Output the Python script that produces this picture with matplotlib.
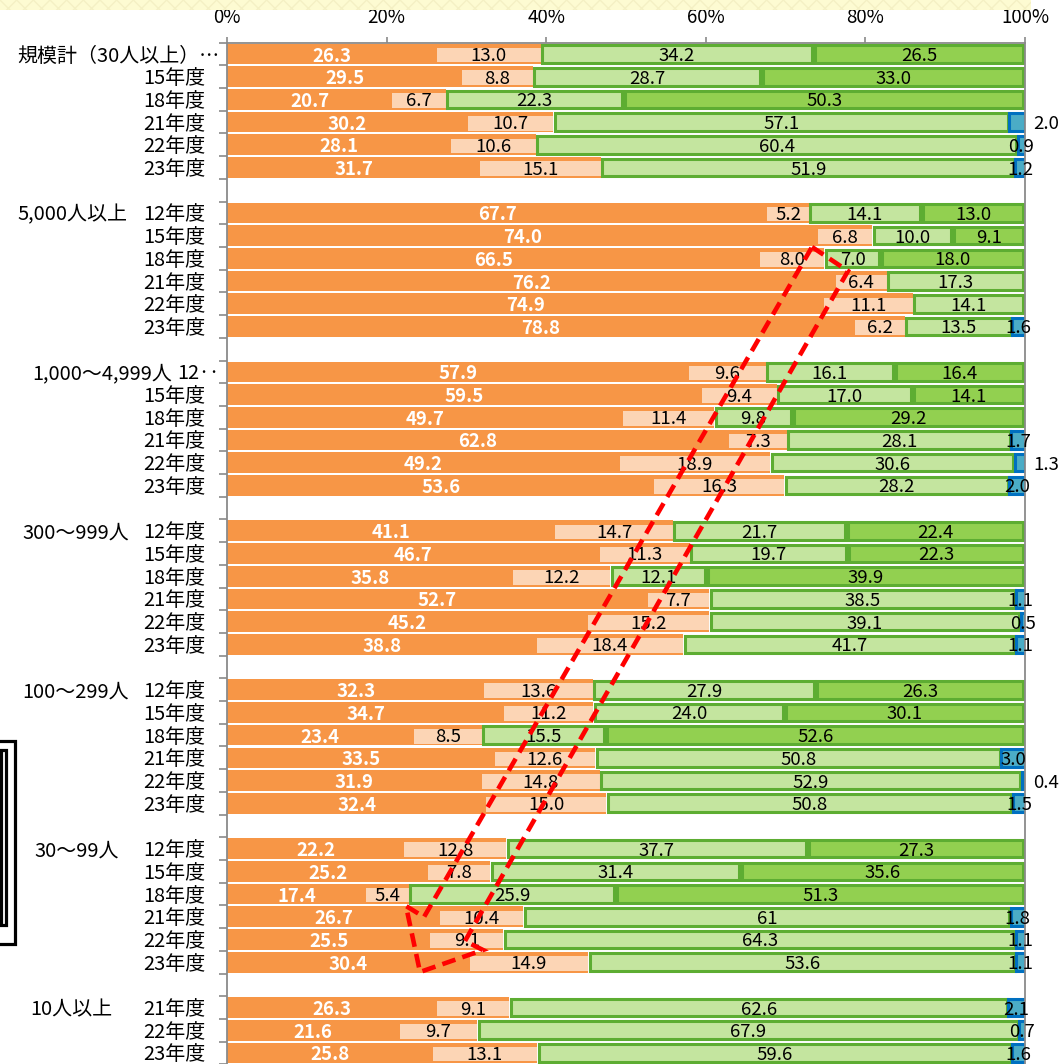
import matplotlib
matplotlib.use("Agg")
import matplotlib.pyplot as plt
from matplotlib.patches import Rectangle, Polygon
from matplotlib.lines import Line2D
from matplotlib.transforms import blended_transform_factory

plt.rcParams["font.family"] = ["Noto Sans CJK JP", "DejaVu Sans"]

W, H = 1062, 1064

# Data (percent shares per row, left to right)
groups = ["規模計（30人以上）", "5,000人以上", "1,000～4,999人", "300～999人",
          "100～299人", "30～99人", "10人以上"]
years_6 = ["12年度", "15年度", "18年度", "21年度", "22年度", "23年度"]
years_3 = ["21年度", "22年度", "23年度"]
group_years = [years_6] * 6 + [years_3]

seg1 = [[26.3, 29.5, 20.7, 30.2, 28.1, 31.7],
        [67.7, 74.0, 66.5, 76.2, 74.9, 78.8],
        [57.9, 59.5, 49.7, 62.8, 49.2, 53.6],
        [41.1, 46.7, 35.8, 52.7, 45.2, 38.8],
        [32.3, 34.7, 23.4, 33.5, 31.9, 32.4],
        [22.2, 25.2, 17.4, 26.7, 25.5, 30.4],
        [26.3, 21.6, 25.8]]
seg2 = [[13.0, 8.8, 6.7, 10.7, 10.6, 15.1],
        [5.2, 6.8, 8.0, 6.4, 11.1, 6.2],
        [9.6, 9.4, 11.4, 7.3, 18.9, 16.3],
        [14.7, 11.3, 12.2, 7.7, 15.2, 18.4],
        [13.6, 11.2, 8.5, 12.6, 14.8, 15.0],
        [12.8, 7.8, 5.4, 10.4, 9.1, 14.9],
        [9.1, 9.7, 13.1]]
seg3 = [[34.2, 28.7, 22.3, 57.1, 60.4, 51.9],
        [14.1, 10.0, 7.0, 17.3, 14.1, 13.5],
        [16.1, 17.0, 9.8, 28.1, 30.6, 28.2],
        [21.7, 19.7, 12.1, 38.5, 39.1, 41.7],
        [27.9, 24.0, 15.5, 50.8, 52.9, 50.8],
        [37.7, 31.4, 25.9, 61, 64.3, 53.6],
        [62.6, 67.9, 59.6]]
seg4 = [[26.5, 33.0, 50.3, None, None, None],
        [13.0, 9.1, 18.0, None, None, None],
        [16.4, 14.1, 29.2, None, None, None],
        [22.4, 22.3, 39.9, None, None, None],
        [26.3, 30.1, 52.6, None, None, None],
        [27.3, 35.6, 51.3, None, None, None],
        [None, None, None]]
seg5 = [[None, None, None, 2.0, 0.9, 1.2],
        [None, None, None, None, None, 1.6],
        [None, None, None, 1.7, 1.3, 2.0],
        [None, None, None, 1.1, 0.5, 1.1],
        [None, None, None, 3.0, 0.4, 1.5],
        [None, None, None, 1.8, 1.1, 1.1],
        [2.1, 0.7, 1.6]]

# labels of the last segment drawn outside the bar (group, row)
outside_last = {(0, 3), (2, 4), (4, 4)}

# Styles
ORANGE = "#F79646"
LIGHT_ORANGE = "#FCD5B5"
LIGHT_GREEN = "#C4E59F"
GREEN = "#92D050"
GREEN_EDGE = "#5DAD32"
BLUE = "#4BACC6"
BLUE_EDGE = "#0070C0"
AXIS_GRAY = "#8A8A8A"

group_label_x = [None, 17, 32, 22, 22, 34, 30]
VAL_FS = 13.4
LAB_FS = 14.4


def fmt(v):
    return str(v) if isinstance(v, int) else f"{v:.1f}"


fig = plt.figure(figsize=(W / 100, H / 100), dpi=100)
ax_top, ax_bot = 42.65, 1064.35
ax = fig.add_axes([227 / W, 1 - ax_bot / H, (1025 - 227) / W, (ax_bot - ax_top) / H])

px_x = 100 / 798.0          # one pixel in % units
pitch = (ax_bot - ax_top) / 45.0
px_y = 1 / pitch            # one pixel in row units
bar_h = 0.91
edge_w = 2.2                # points
edge_px = edge_w * 100 / 72
dy = 2 * px_y               # text sits slightly below the bar centre

lab_tr = blended_transform_factory(fig.transFigure, ax.transData)

y = 0
for gi, gname in enumerate(groups):
    for ri, year in enumerate(group_years[gi]):
        raw = [seg1[gi][ri], seg2[gi][ri], seg3[gi][ri], seg4[gi][ri], seg5[gi][ri]]
        k = 100.0 / sum(v for v in raw if v is not None)   # 100% stacked
        a, b, c, d, e = [None if v is None else v * k for v in raw]

        # dark orange
        ax.barh(y, a, left=0, height=bar_h, color=ORANGE, linewidth=0)
        ax.text(a / 2, y + dy, fmt(raw[0]), ha="center", va="center",
                color="white", fontweight="bold", fontsize=VAL_FS)
        # light orange (inset on an orange base)
        ax.barh(y, b, left=a, height=bar_h, color=ORANGE, linewidth=0)
        ax.barh(y + 1.1 * px_y, b, left=a, height=bar_h - 6 * px_y,
                color=LIGHT_ORANGE, linewidth=0)
        ax.text(a + b / 2, y + dy, fmt(raw[1]), ha="center", va="center",
                color="black", fontsize=VAL_FS)
        left = a + b
        ins = edge_px / 2 * px_x
        for v, rv, fc in ((c, raw[2], LIGHT_GREEN), (d, raw[3], GREEN)):
            if v is None:
                continue
            ax.barh(y, v - 2 * ins, left=left + ins,
                    height=bar_h - edge_px * px_y, color=fc,
                    edgecolor=GREEN_EDGE, linewidth=edge_w)
            ax.text(left + v / 2, y + dy, fmt(rv), ha="center",
                    va="center", color="black", fontsize=VAL_FS)
            left += v
        if e is not None:
            ax.barh(y, e, left=left, height=bar_h - edge_px * px_y, color=BLUE,
                    edgecolor=BLUE_EDGE, linewidth=edge_w)
            if (gi, ri) in outside_last:
                ax.text(100 + 8 * px_x, y + dy, fmt(raw[4]), ha="left",
                        va="center", color="black", fontsize=VAL_FS,
                        clip_on=False)
            else:
                ax.text(left + e / 2, y + dy, fmt(raw[4]), ha="center",
                        va="center", color="black", fontsize=VAL_FS)

        # row labels
        if gi == 0 and ri == 0:
            ax.text(219 / W, y + dy, gname + "…", transform=lab_tr,
                    ha="right", va="center", fontsize=LAB_FS)
        else:
            ytxt = "12‥" if (gi == 2 and ri == 0) else year
            xr = 219 if (gi == 2 and ri == 0) else 205
            ax.text(xr / W, y + dy, ytxt, transform=lab_tr,
                    ha="right", va="center", fontsize=LAB_FS)
            if ri == 0:
                ax.text(group_label_x[gi] / W, y + dy, gname,
                        transform=lab_tr, ha="left", va="center",
                        fontsize=LAB_FS)
        y += 1
    y += 1  # blank row between groups

n_rows = y - 1
ax.set_xlim(0, 100)
ax.set_ylim(n_rows - 0.5, -0.5)

ax.xaxis.tick_top()
ax.set_xticks(range(0, 101, 20))
ax.set_xticklabels([f"{t}%" for t in range(0, 101, 20)], fontsize=13.5)
ax.tick_params(axis="x", direction="out", length=4, width=1.2,
               color=AXIS_GRAY, pad=6.5)
ax.set_yticks([i - 0.5 for i in range(n_rows + 1)])
ax.set_yticklabels([])
ax.tick_params(axis="y", direction="out", length=5.5, width=1.2,
               color=AXIS_GRAY)
for side in ("left", "top", "right"):
    ax.spines[side].set_color(AXIS_GRAY)
    ax.spines[side].set_linewidth(1.3)
ax.spines["bottom"].set_visible(False)
ax.set_facecolor("none")


def fxy(x, yy):
    return (x / W, 1 - yy / H)


# pale yellow strip at top (cropped element)
fig.add_artist(Rectangle(fxy(0, 9.5), 1031 / W, 9.5 / H, transform=fig.transFigure,
                         facecolor="#FDFBD2", edgecolor="none", zorder=20))
fig.add_artist(Rectangle(fxy(0, 9.5), 1031 / W, 9.5 / H, transform=fig.transFigure,
                         fill=False, hatch="xx", edgecolor="#F4F0C4",
                         linewidth=0, zorder=21))

# black framed box at left edge (cropped element)
for pts in ([(-5, 741), (14.5, 741), (14.5, 944), (-5, 944)],
            [(-5, 750), (6, 750), (6, 925), (-5, 925)],
            [(0.8, 752), (0.8, 923)]):
    xs = [p[0] / W for p in pts]
    ys = [1 - p[1] / H for p in pts]
    fig.add_artist(Line2D(xs, ys, transform=fig.transFigure, color="black",
                          linewidth=2.3, solid_joinstyle="miter"))

# red dashed arrow
arrow_px = [(812, 247), (848, 271), (465, 941), (483, 950), (420, 972),
            (406, 906), (424, 917)]
fig.add_artist(Polygon([fxy(*p) for p in arrow_px], closed=True, fill=False,
                       edgecolor="#FF0000", linewidth=3.3,
                       linestyle=(0, (3.0, 1.6)), joinstyle="miter",
                       transform=fig.transFigure, zorder=30))

fig.savefig("out.png", dpi=100)
